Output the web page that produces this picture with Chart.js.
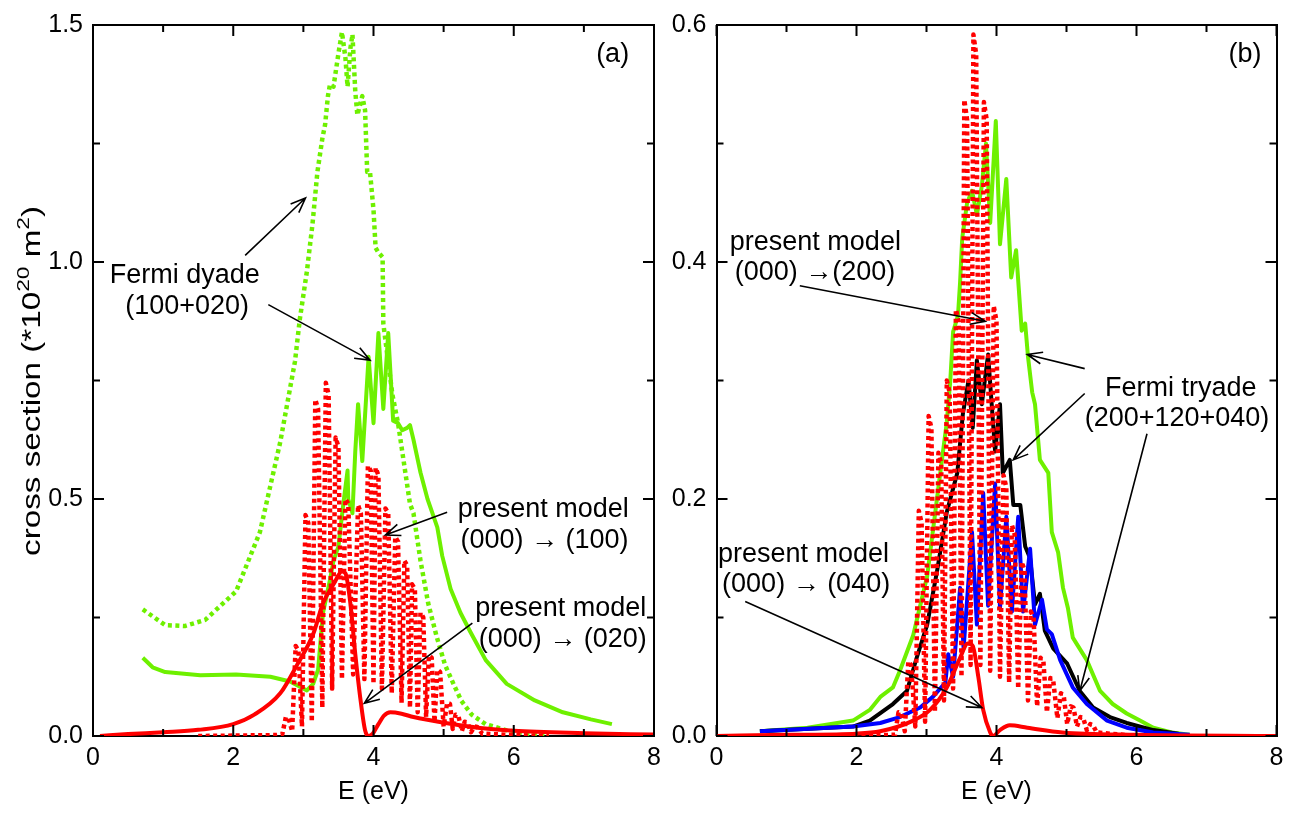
<!DOCTYPE html>
<html>
<head>
<meta charset="utf-8">
<script src="https://cdn.jsdelivr.net/npm/chart.js@4.4.1/dist/chart.umd.min.js"></script>
<style>
body { margin: 0; background: #fff; }
#wrap { position: relative; width: 1303px; height: 813px; overflow: hidden; }
canvas { position: absolute; top: 0; }
</style>
</head>
<body>
<div id="wrap">
<canvas id="chartA" width="700" height="813" style="left:0"></canvas>
<canvas id="chartB" width="643" height="813" style="left:660px"></canvas>
</div>
<script>
// ---- panel (a) data: energy E (eV) and cross section (1e-20 m^2)
var aGreenDotE = [0.71,1.03,1.31,1.6,2.04,2.38,2.67,2.88,2.95,3.05,3.13,3.20,3.27,3.31,3.35,3.38,3.43,3.50,3.55,3.60,3.63,3.67,3.70,3.74,3.77,3.84,3.88,3.91,3.95,4.00,4.03,4.07,4.13,4.14,4.2,4.27,4.35,4.45,4.52,4.57,4.67,4.78,4.9,5.02,5.14,5.25,5.4,5.6,5.9,6.2,6.5];
var aGreenDotS = [0.267,0.234,0.232,0.245,0.305,0.43,0.62,0.79,0.88,0.98,1.08,1.19,1.26,1.29,1.35,1.375,1.37,1.44,1.485,1.43,1.37,1.45,1.48,1.36,1.31,1.35,1.32,1.19,1.19,1.11,1.03,1.02,1.01,0.87,0.8,0.72,0.66,0.56,0.49,0.47,0.37,0.28,0.21,0.15,0.11,0.075,0.045,0.025,0.012,0.005,0.002];

var aGreenE = [0.71,0.85,1.03,1.53,2.04,2.53,2.81,3.05,3.14,3.21,3.28,3.38,3.43,3.50,3.57,3.63,3.64,3.70,3.74,3.78,3.84,3.93,4.00,4.07,4.14,4.21,4.28,4.35,4.41,4.48,4.52,4.57,4.67,4.77,4.84,4.91,4.98,5.10,5.24,5.38,5.6,5.9,6.3,6.7,7.1,7.4];
var aGreenS = [0.165,0.145,0.135,0.128,0.13,0.125,0.115,0.096,0.11,0.14,0.26,0.33,0.37,0.40,0.49,0.56,0.50,0.47,0.60,0.70,0.58,0.80,0.66,0.85,0.69,0.85,0.665,0.66,0.645,0.65,0.656,0.625,0.556,0.50,0.47,0.44,0.38,0.31,0.26,0.22,0.16,0.11,0.075,0.05,0.035,0.025];

var aRedDotE = [1.5,2.62,2.70, 2.75,2.79,2.84, 2.89,2.93,2.98, 3.03,3.07,3.12, 3.17,3.21,3.27, 3.32,3.36,3.41, 3.46,3.50,3.55, 3.60,3.64,3.71, 3.78,3.82,3.87, 3.92,3.96,4.0, 4.03,4.07,4.12, 4.17,4.21,4.26, 4.31,4.35,4.4, 4.44,4.48,4.52, 4.55,4.59,4.63, 4.67,4.71,4.75, 4.79,4.83,4.87, 4.91,4.95,5.0, 5.05,5.09,5.13, 5.17,5.21,5.26, 5.30,5.34,5.39, 5.44,5.48,5.55, 6.0,6.5];
var aRedDotS = [0,0.002,0.004, 0.04,0.037,0.01, 0.19,0.18,0.02, 0.466,0.45,0.03, 0.71,0.69,0.06, 0.745,0.72,0.10, 0.63,0.61,0.12, 0.50,0.49,0.13, 0.487,0.47,0.12, 0.57,0.56,0.11, 0.566,0.55,0.10, 0.48,0.47,0.09, 0.42,0.41,0.07, 0.37,0.36,0.06, 0.32,0.31,0.05, 0.26,0.25,0.04, 0.17,0.165,0.03, 0.14,0.135,0.02, 0.07,0.068,0.015, 0.045,0.043,0.01, 0.03,0.029,0.008, 0.02,0.019,0.005, 0.002,0];

var aRedE = [0.1,0.5,1.0,1.5,2.0,2.3,2.67,2.91,3.14,3.28,3.43,3.55,3.60,3.67,3.74,3.81,3.88,3.93,3.99,4.07,4.15,4.24,4.4,4.57,5.05,5.52,6.0,7.0,8.0];
var aRedS = [0.0,0.004,0.008,0.013,0.025,0.045,0.09,0.15,0.215,0.28,0.32,0.347,0.343,0.28,0.173,0.082,0.012,0.0,0.005,0.025,0.043,0.05,0.047,0.04,0.027,0.017,0.011,0.006,0.003];

// ---- panel (b) data
var bGreenE = [0.62,1.3,1.95,2.19,2.34,2.52,2.62,2.81,3.01,3.16,3.29,3.34,3.38,3.45,3.48,3.51,3.58,3.65,3.72,3.79,3.85,3.91,3.99,4.05,4.14,4.21,4.28,4.36,4.41,4.45,4.51,4.55,4.62,4.74,4.79,4.88,4.95,5.02,5.09,5.29,5.48,5.66,5.86,6.05,6.24,6.5,6.76];
var bGreenS = [0.004,0.007,0.013,0.022,0.033,0.041,0.055,0.085,0.135,0.205,0.265,0.3,0.341,0.355,0.383,0.42,0.45,0.46,0.44,0.464,0.5,0.433,0.519,0.415,0.47,0.387,0.41,0.342,0.348,0.32,0.29,0.28,0.233,0.222,0.172,0.155,0.125,0.108,0.083,0.064,0.038,0.027,0.019,0.013,0.007,0.003,0.001];

var bBlackE = [0.62,1.95,2.19,2.52,2.72,2.86,3.01,3.15,3.29,3.44,3.52,3.6,3.66,3.72,3.79,3.88,3.98,4.05,4.09,4.19,4.24,4.34,4.41,4.48,4.55,4.62,4.69,4.81,5.01,5.19,5.38,5.62,5.86,6.24,6.6];
var bBlackS = [0.004,0.008,0.013,0.027,0.038,0.066,0.094,0.139,0.189,0.222,0.272,0.3,0.26,0.317,0.28,0.322,0.24,0.28,0.222,0.233,0.195,0.195,0.16,0.15,0.111,0.12,0.089,0.074,0.061,0.038,0.024,0.016,0.011,0.005,0.002];

var bBlueE = [0.62,1.95,2.34,2.62,2.91,3.09,3.24,3.27,3.31,3.38,3.48,3.53,3.65,3.72,3.81,3.88,3.98,4.05,4.14,4.22,4.31,4.38,4.48,4.55,4.65,4.72,4.79,4.91,5.09,5.29,5.58,5.86,6.24,6.76];
var bBlueS = [0.004,0.008,0.011,0.016,0.024,0.033,0.043,0.045,0.069,0.05,0.125,0.074,0.172,0.094,0.205,0.11,0.213,0.108,0.185,0.105,0.185,0.105,0.158,0.094,0.115,0.09,0.086,0.064,0.041,0.027,0.013,0.007,0.003,0.001];

var bRedDotE = [1.0,2.55, 2.60,2.64,2.69, 2.74,2.78,2.84, 2.89,2.93,2.98, 3.03,3.07,3.12, 3.17,3.21,3.25, 3.29,3.33,3.38, 3.42,3.46,3.5, 3.54,3.58,3.63, 3.67,3.71,3.77, 3.82,3.86,3.91, 3.96,4.0,4.05, 4.10,4.14,4.18, 4.22,4.26,4.31, 4.36,4.40,4.45, 4.49,4.53,4.58, 4.63,4.67,4.72, 4.77,4.81,4.87, 4.92,4.96,5.01, 5.06,5.10,5.15, 5.20,5.24,5.29, 5.34,5.38,5.43, 6.0];
var bRedDotS = [0,0.001, 0.02,0.019,0.004, 0.063,0.06,0.008, 0.19,0.18,0.012, 0.27,0.26,0.02, 0.239,0.23,0.03, 0.30,0.29,0.04, 0.36,0.35,0.05, 0.537,0.52,0.06, 0.592,0.575,0.06, 0.535,0.52,0.055, 0.363,0.35,0.05, 0.22,0.21,0.045, 0.178,0.17,0.04, 0.147,0.14,0.03, 0.105,0.1,0.025, 0.066,0.063,0.02, 0.049,0.047,0.015, 0.036,0.034,0.01, 0.025,0.024,0.008, 0.016,0.015,0.005, 0.01,0.009,0.003, 0];

var bRedE = [0.0,1.0,2.0,2.34,2.81,3.05,3.29,3.48,3.59,3.66,3.74,3.81,3.91,3.95,4.05,4.19,4.44,4.94,6.0,8.0];
var bRedS = [0.0,0.001,0.002,0.004,0.013,0.022,0.041,0.066,0.078,0.076,0.05,0.022,0.003,0.0,0.005,0.009,0.007,0.003,0.001,0.0];

var xTickLabels = ['0', '2', '4', '6', '8'];

// labels and arrows, in data units
var aTexts = [
    {x: 0.24, y: 0.972, text: 'Fermi dyade'},
    {x: 0.46, y: 0.905, text: '(100+020)'},
    {x: 5.2, y: 0.478, text: 'present model'},
    {x: 5.24, y: 0.413, text: '(000) \u2192 (100)'},
    {x: 5.45, y: 0.269, text: 'present model'},
    {x: 5.5, y: 0.204, text: '(000) \u2192 (020)'},
    {x: 7.41, y: 1.437, text: '(a)', align: 'center'}
];
var aArrows = [
    {from: [2.17, 1.014], to: [3.03, 1.135]},
    {from: [2.50, 0.910], to: [3.95, 0.793]},
    {from: [5.05, 0.472], to: [4.17, 0.424]},
    {from: [5.41, 0.238], to: [3.87, 0.069]}
];
var bTexts = [
    {x: 0.19, y: 0.4165, text: 'present model'},
    {x: 0.26, y: 0.391, text: '(000) \u2192(200)'},
    {x: 5.55, y: 0.293, text: 'Fermi tryade'},
    {x: 5.26, y: 0.268, text: '(200+120+040)'},
    {x: 0.02, y: 0.153, text: 'present model'},
    {x: 0.08, y: 0.128, text: '(000) \u2192 (040)'},
    {x: 7.55, y: 0.575, text: '(b)', align: 'center'}
];
var bArrows = [
    {from: [1.19, 0.38], to: [3.84, 0.35]},
    {from: [5.26, 0.31], to: [4.44, 0.322]},
    {from: [5.26, 0.289], to: [4.24, 0.233]},
    {from: [6.15, 0.255], to: [5.19, 0.038]},
    {from: [0.41, 0.1135], to: [3.79, 0.024]}
];

var FONT = "'Liberation Sans', Arial, sans-serif";
var GREEN = 'rgb(110, 240, 0)';
var RED = 'rgb(255, 0, 0)';
var BLUE = 'rgb(0, 0, 255)';
var BLACK = 'rgb(0, 0, 0)';

function pts(xs, ys) {
    var out = [];
    for (var i = 0; i < xs.length; i++) out.push({x: xs[i], y: ys[i]});
    return out;
}

function line(label, xs, ys, color, dotted, smooth) {
    return {
        label: label,
        data: pts(xs, ys),
        borderColor: color,
        borderWidth: dotted ? 4.5 : 4,
        borderDash: dotted ? [4, 3.5] : [],
        borderCapStyle: 'butt',
        borderJoinStyle: 'round',
        pointRadius: 0,
        fill: false,
        tension: 0,
        cubicInterpolationMode: smooth ? 'monotone' : 'default'
    };
}

// inward ticks, labels and arrows
var notes = {
    id: 'notes',
    afterDraw: function(chart, args, o) {
        var ctx = chart.ctx, xs = chart.scales.x, ys = chart.scales.y, a = chart.chartArea;
        ctx.save();
        ctx.strokeStyle = '#000';
        ctx.lineWidth = 2;
        ctx.beginPath();
        for (var v = 0; v <= 8; v++) {
            var px = xs.getPixelForValue(v);
            var len = v % 2 === 0 ? 11 : 7;
            ctx.moveTo(px, a.bottom); ctx.lineTo(px, a.bottom - len);
            ctx.moveTo(px, a.top); ctx.lineTo(px, a.top + len);
        }
        for (var i = 0; i <= o.yCount; i++) {
            var py = ys.getPixelForValue(i * o.yMinor);
            var l2 = i % 2 === 0 ? 11 : 7;
            ctx.moveTo(a.left, py); ctx.lineTo(a.left + l2, py);
            ctx.moveTo(a.right, py); ctx.lineTo(a.right - l2, py);
        }
        ctx.stroke();

        ctx.fillStyle = '#000';
        ctx.font = '27px ' + FONT;
        ctx.textBaseline = 'middle';
        o.texts.forEach(function(t) {
            ctx.textAlign = t.align || 'left';
            ctx.fillText(t.text, xs.getPixelForValue(t.x), ys.getPixelForValue(t.y));
        });

        ctx.lineWidth = 1.6;
        o.arrows.forEach(function(ar) {
            var x0 = xs.getPixelForValue(ar.from[0]), y0 = ys.getPixelForValue(ar.from[1]);
            var x1 = xs.getPixelForValue(ar.to[0]), y1 = ys.getPixelForValue(ar.to[1]);
            var ang = Math.atan2(y1 - y0, x1 - x0), L = 16, w = 0.38;
            ctx.beginPath();
            ctx.moveTo(x0, y0); ctx.lineTo(x1, y1);
            ctx.moveTo(x1 - L * Math.cos(ang - w), y1 - L * Math.sin(ang - w));
            ctx.lineTo(x1, y1);
            ctx.lineTo(x1 - L * Math.cos(ang + w), y1 - L * Math.sin(ang + w));
            ctx.stroke();
        });

        if (o.yTitle) {
            var parts = [['cross section (*10', 0], ['20', 1], [' m', 0], ['2', 1], [')', 0]];
            var w2 = 0;
            parts.forEach(function(p) {
                ctx.font = (p[1] ? 17 : 25) + 'px ' + FONT;
                p.push(ctx.measureText(p[0]).width);
                w2 += p[2];
            });
            ctx.translate(40, 381);
            ctx.rotate(-Math.PI / 2);
            ctx.scale(350 / w2, 1);
            ctx.textAlign = 'left';
            ctx.textBaseline = 'alphabetic';
            var cx = -w2 / 2;
            parts.forEach(function(p) {
                ctx.font = (p[1] ? 17 : 25) + 'px ' + FONT;
                ctx.fillText(p[0], cx, p[1] ? -11 : 0);
                cx += p[2];
            });
        }
        ctx.restore();
    }
};

function axes(yMax, yStep, leftW, rightW, canvasH) {
    var border = {display: true, color: '#000', width: 2};
    var tickFont = {family: FONT, size: 25};
    return {
        x: {
            type: 'linear', position: 'bottom', min: 0, max: 8,
            ticks: {stepSize: 2, color: '#000', font: tickFont, padding: 7, maxRotation: 0,
                callback: function(v) { return xTickLabels[v / 2]; }},
            grid: {display: false, drawTicks: false},
            border: border,
            title: {display: true, text: 'E (eV)', color: '#000', font: tickFont, padding: {top: 0, bottom: 6}},
            afterFit: function(s) { s.height = canvasH - 736; }
        },
        xTop: {
            type: 'linear', position: 'top', min: 0, max: 8,
            ticks: {display: false}, grid: {display: false, drawTicks: false}, border: border,
            afterFit: function(s) { s.height = 17; }
        },
        y: {
            type: 'linear', position: 'left', min: 0, max: yMax,
            ticks: {stepSize: yStep, color: '#000', font: tickFont, padding: 10,
                callback: function(v) { return v.toFixed(1); }},
            grid: {display: false, drawTicks: false},
            border: border,
            afterFit: function(s) { s.width = leftW; }
        },
        yRight: {
            type: 'linear', position: 'right', min: 0, max: yMax,
            ticks: {display: false}, grid: {display: false, drawTicks: false}, border: border,
            afterFit: function(s) { s.width = rightW; }
        }
    };
}

new Chart(document.getElementById('chartA'), {
    type: 'line',
    data: {
        datasets: [
            line('(000)->(020)', aRedE, aRedS, RED, false, true),
            line('(000)->(100)', aRedDotE, aRedDotS, RED, true, false),
            line('Fermi dyade', aGreenE, aGreenS, GREEN, false, false),
            line('Fermi dyade (dotted)', aGreenDotE, aGreenDotS, GREEN, true, false)
        ]
    },
    options: {
        responsive: false,
        animation: false,
        layout: {padding: 0},
        scales: axes(1.5, 0.5, 93, 46, 813),
        plugins: {
            legend: {display: false},
            tooltip: {enabled: false},
            notes: {texts: aTexts, arrows: aArrows, yMinor: 0.25, yCount: 6, yTitle: true}
        }
    },
    plugins: [notes]
});

new Chart(document.getElementById('chartB'), {
    type: 'line',
    data: {
        datasets: [
            line('(000)->(040)', bRedE, bRedS, RED, false, true),
            line('(000)->(200)', bRedDotE, bRedDotS, RED, true, false),
            line('blue', bBlueE, bBlueS, BLUE, false, false),
            line('black', bBlackE, bBlackS, BLACK, false, false),
            line('Fermi tryade', bGreenE, bGreenS, GREEN, false, false)
        ]
    },
    options: {
        responsive: false,
        animation: false,
        layout: {padding: 0},
        scales: axes(0.6, 0.2, 56.5, 26.5, 813),
        plugins: {
            legend: {display: false},
            tooltip: {enabled: false},
            notes: {texts: bTexts, arrows: bArrows, yMinor: 0.1, yCount: 6, yTitle: false}
        }
    },
    plugins: [notes]
});
</script>
</body>
</html>
